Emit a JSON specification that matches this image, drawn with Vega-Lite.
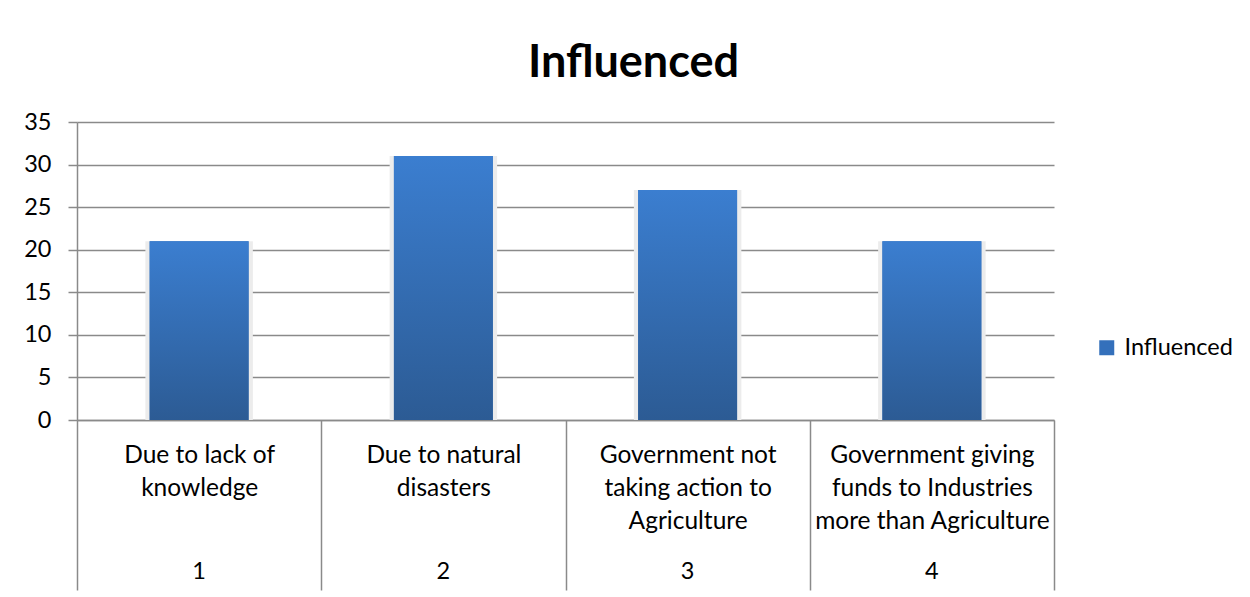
{
  "$schema": "https://vega.github.io/schema/vega-lite/v6.json",
  "autosize": "none",
  "width": 977,
  "height": 298,
  "padding": {"left": 77, "top": 122, "right": 196, "bottom": 177},
  "background": "white",
  "title": {
    "text": "Influenced",
    "font": "Lato",
    "fontSize": 45,
    "fontWeight": "bold",
    "color": "#000000",
    "anchor": "middle",
    "dx": 68,
    "offset": 24
  },
  "data": {
    "values": [
      {"cat": "Due to lack of|knowledge", "series": "Influenced", "value": 21},
      {"cat": "Due to natural|disasters", "series": "Influenced", "value": 31},
      {"cat": "Government not|taking  action to|Agriculture", "series": "Influenced", "value": 27},
      {"cat": "Government giving|funds to Industries|more than Agriculture", "series": "Influenced", "value": 21}
    ]
  },
  "config": {
    "font": "Lato",
    "view": {"stroke": null},
    "axis": {
      "labelFont": "Lato",
      "labelFontSize": 23.5,
      "labelColor": "#000000",
      "labelLimit": 0,
      "domainColor": "#8a8a8a",
      "tickColor": "#8a8a8a",
      "gridColor": "#8a8a8a",
      "domainWidth": 1.5,
      "tickWidth": 1.5,
      "gridWidth": 1.5,
      "title": null
    }
  },
  "resolve": {"axis": {"x": "independent"}},
  "layer": [
    {
      "mark": {"type": "bar", "width": {"band": 0.44}, "color": "#ececec"},
      "encoding": {
        "x": {
          "field": "cat",
          "type": "nominal",
          "sort": null,
          "scale": {"paddingInner": 0, "paddingOuter": 0},
          "axis": {
            "orient": "bottom",
            "labelExpr": "split(datum.label, '|')",
            "labelAngle": 0,
            "labelFontSize": 24.5,
            "labelLineHeight": 33,
            "labelBaseline": "top",
            "tickBand": "extent",
            "tickSize": 170,
            "labelPadding": -147,
            "domain": true,
            "grid": false
          }
        },
        "y": {
          "field": "value",
          "type": "quantitative",
          "scale": {"domain": [0, 35]},
          "axis": {
            "values": [0, 5, 10, 15, 20, 25, 30, 35],
            "grid": true,
            "tickSize": 9,
            "labelPadding": 17,
            "domain": true
          }
        }
      }
    },
    {
      "mark": {"type": "bar", "width": {"band": 0.405}},
      "encoding": {
        "x": {
          "field": "cat",
          "type": "nominal",
          "sort": null,
          "axis": {
            "orient": "bottom",
            "labelExpr": "indexof(domain('x'), datum.value) + 1",
            "labelAngle": 0,
            "labelBaseline": "top",
            "ticks": false,
            "tickSize": 0,
            "domain": false,
            "grid": false,
            "labelPadding": 139
          }
        },
        "y": {"field": "value", "type": "quantitative"},
        "color": {
          "field": "series",
          "type": "nominal",
          "scale": {"range": ["#3470bb"]},
          "legend": {
            "title": null,
            "orient": "none",
            "legendX": 1018,
            "legendY": 214,
            "symbolType": "square",
            "symbolSize": 225,
            "symbolStrokeWidth": 0,
            "labelFont": "Lato",
            "labelFontSize": 23.5,
            "labelColor": "#000000",
            "labelOffset": 6
          }
        }
      }
    },
    {
      "mark": {
        "type": "bar",
        "width": {"band": 0.405},
        "fill": {
          "gradient": "linear",
          "x1": 0, "y1": 0, "x2": 0, "y2": 1,
          "stops": [
            {"offset": 0, "color": "#3b7ed0"},
            {"offset": 1, "color": "#2c5b94"}
          ]
        }
      },
      "encoding": {
        "x": {"field": "cat", "type": "nominal", "sort": null, "axis": null},
        "y": {"field": "value", "type": "quantitative"}
      }
    }
  ]
}
